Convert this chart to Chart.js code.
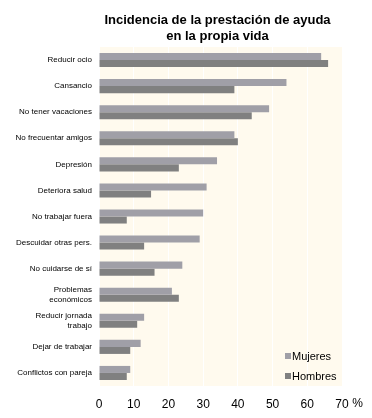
<!DOCTYPE html>
<html>
<head>
<meta charset="utf-8">
<script src="https://cdn.jsdelivr.net/npm/chart.js@4"></script>
<style>
html,body{margin:0;padding:0;background:#fff;}
#wrap{width:372px;height:418px;position:relative;}
</style>
</head>
<body>
<div id="wrap"><canvas id="c" width="372" height="418"></canvas></div>
<script>
const titleLines = ["Incidencia de la prestación de ayuda", "en la propia vida"];
const categories = [
  "Reducir ocio",
  "Cansancio",
  "No tener vacaciones",
  "No frecuentar amigos",
  "Depresión",
  "Deteriora salud",
  "No trabajar fuera",
  "Descuidar otras pers.",
  "No cuidarse de sí",
  ["Problemas", "económicos"],
  ["Reducir jornada", "trabajo"],
  "Dejar de trabajar",
  "Conflictos con pareja"
];
const seriesNames = ["Mujeres", "Hombres"];
const mujeres = [64, 54, 49, 39, 34, 31, 30, 29, 24, 21, 13, 12, 9];
const hombres = [66, 39, 44, 40, 23, 15, 8, 13, 16, 23, 11, 9, 8];
const xTicks = [0, 10, 20, 30, 40, 50, 60, 70];
const xUnit = "%";

const colMujeres = "#a09fa7";
const colHombres = "#808080";
const plotBg = "#fffaee";

const bgPlugin = {
  id: "bgPlugin",
  beforeDraw(chart) {
    const {ctx, chartArea: a} = chart;
    ctx.save();
    ctx.fillStyle = plotBg;
    ctx.fillRect(a.left, a.top, a.right - a.left, a.bottom - a.top);
    ctx.restore();
  },
  afterDraw(chart) {
    const {ctx, chartArea: a} = chart;
    ctx.save();
    // title
    ctx.fillStyle = "#000";
    ctx.font = "bold 13px 'Liberation Sans', Arial, sans-serif";
    ctx.textAlign = "center";
    ctx.textBaseline = "alphabetic";
    const cx = (a.left + a.right) / 2 - 3;
    ctx.fillText(titleLines[0], cx, 24);
    ctx.fillText(titleLines[1], cx, 40);
    // % after last tick
    const xs = chart.scales.x;
    ctx.font = "12px 'Liberation Sans', Arial, sans-serif";
    ctx.textAlign = "left";
    ctx.textBaseline = "middle";
    const last = xTicks[xTicks.length - 1];
    const lw = ctx.measureText(String(last)).width;
    ctx.fillText(xUnit, xs.getPixelForValue(last) + lw / 2 + 3.5, a.bottom + 18);
    // legend inside plot
    ctx.font = "11px 'Liberation Sans', Arial, sans-serif";
    chart.data.datasets.forEach((ds, i) => {
      const y = a.bottom - 29 + i * 20;
      const x = a.right - 57;
      ctx.fillStyle = ds.backgroundColor;
      ctx.fillRect(x, y - 4, 6, 6);
      ctx.fillStyle = "#000";
      ctx.fillText(ds.label, x + 7, y);
    });
    ctx.restore();
  }
};

new Chart(document.getElementById("c"), {
  type: "bar",
  data: {
    labels: categories,
    datasets: [
      {label: seriesNames[0], data: mujeres, backgroundColor: colMujeres},
      {label: seriesNames[1], data: hombres, backgroundColor: colHombres}
    ]
  },
  options: {
    indexAxis: "y",
    responsive: false,
    animation: false,
    devicePixelRatio: 1,
    layout: {padding: {top: 47, right: 30, bottom: 0, left: 0}},
    datasets: {bar: {categoryPercentage: 0.54, barPercentage: 1.0, borderWidth: 0}},
    plugins: {legend: {display: false}, title: {display: false}, tooltip: {enabled: false}},
    scales: {
      x: {
        min: 0, max: 70,
        afterBuildTicks(s) { s.ticks = xTicks.map(v => ({value: v})); },
        afterFit(s) { s.height = 32; },
        grid: {color: "#ffffff", lineWidth: 1, drawTicks: false},
        border: {display: false},
        ticks: {
          padding: 11,
          color: "#000",
          font: {family: "'Liberation Sans', Arial, sans-serif", size: 12}
        }
      },
      y: {
        afterFit(s) { s.width = 99; },
        grid: {display: false, drawTicks: false},
        border: {display: false},
        ticks: {
          padding: 7,
          color: "#000",
          autoSkip: false,
          font: {family: "'Liberation Sans', Arial, sans-serif", size: 8, lineHeight: 1.35}
        }
      }
    }
  },
  plugins: [bgPlugin]
});
</script>
</body>
</html>
